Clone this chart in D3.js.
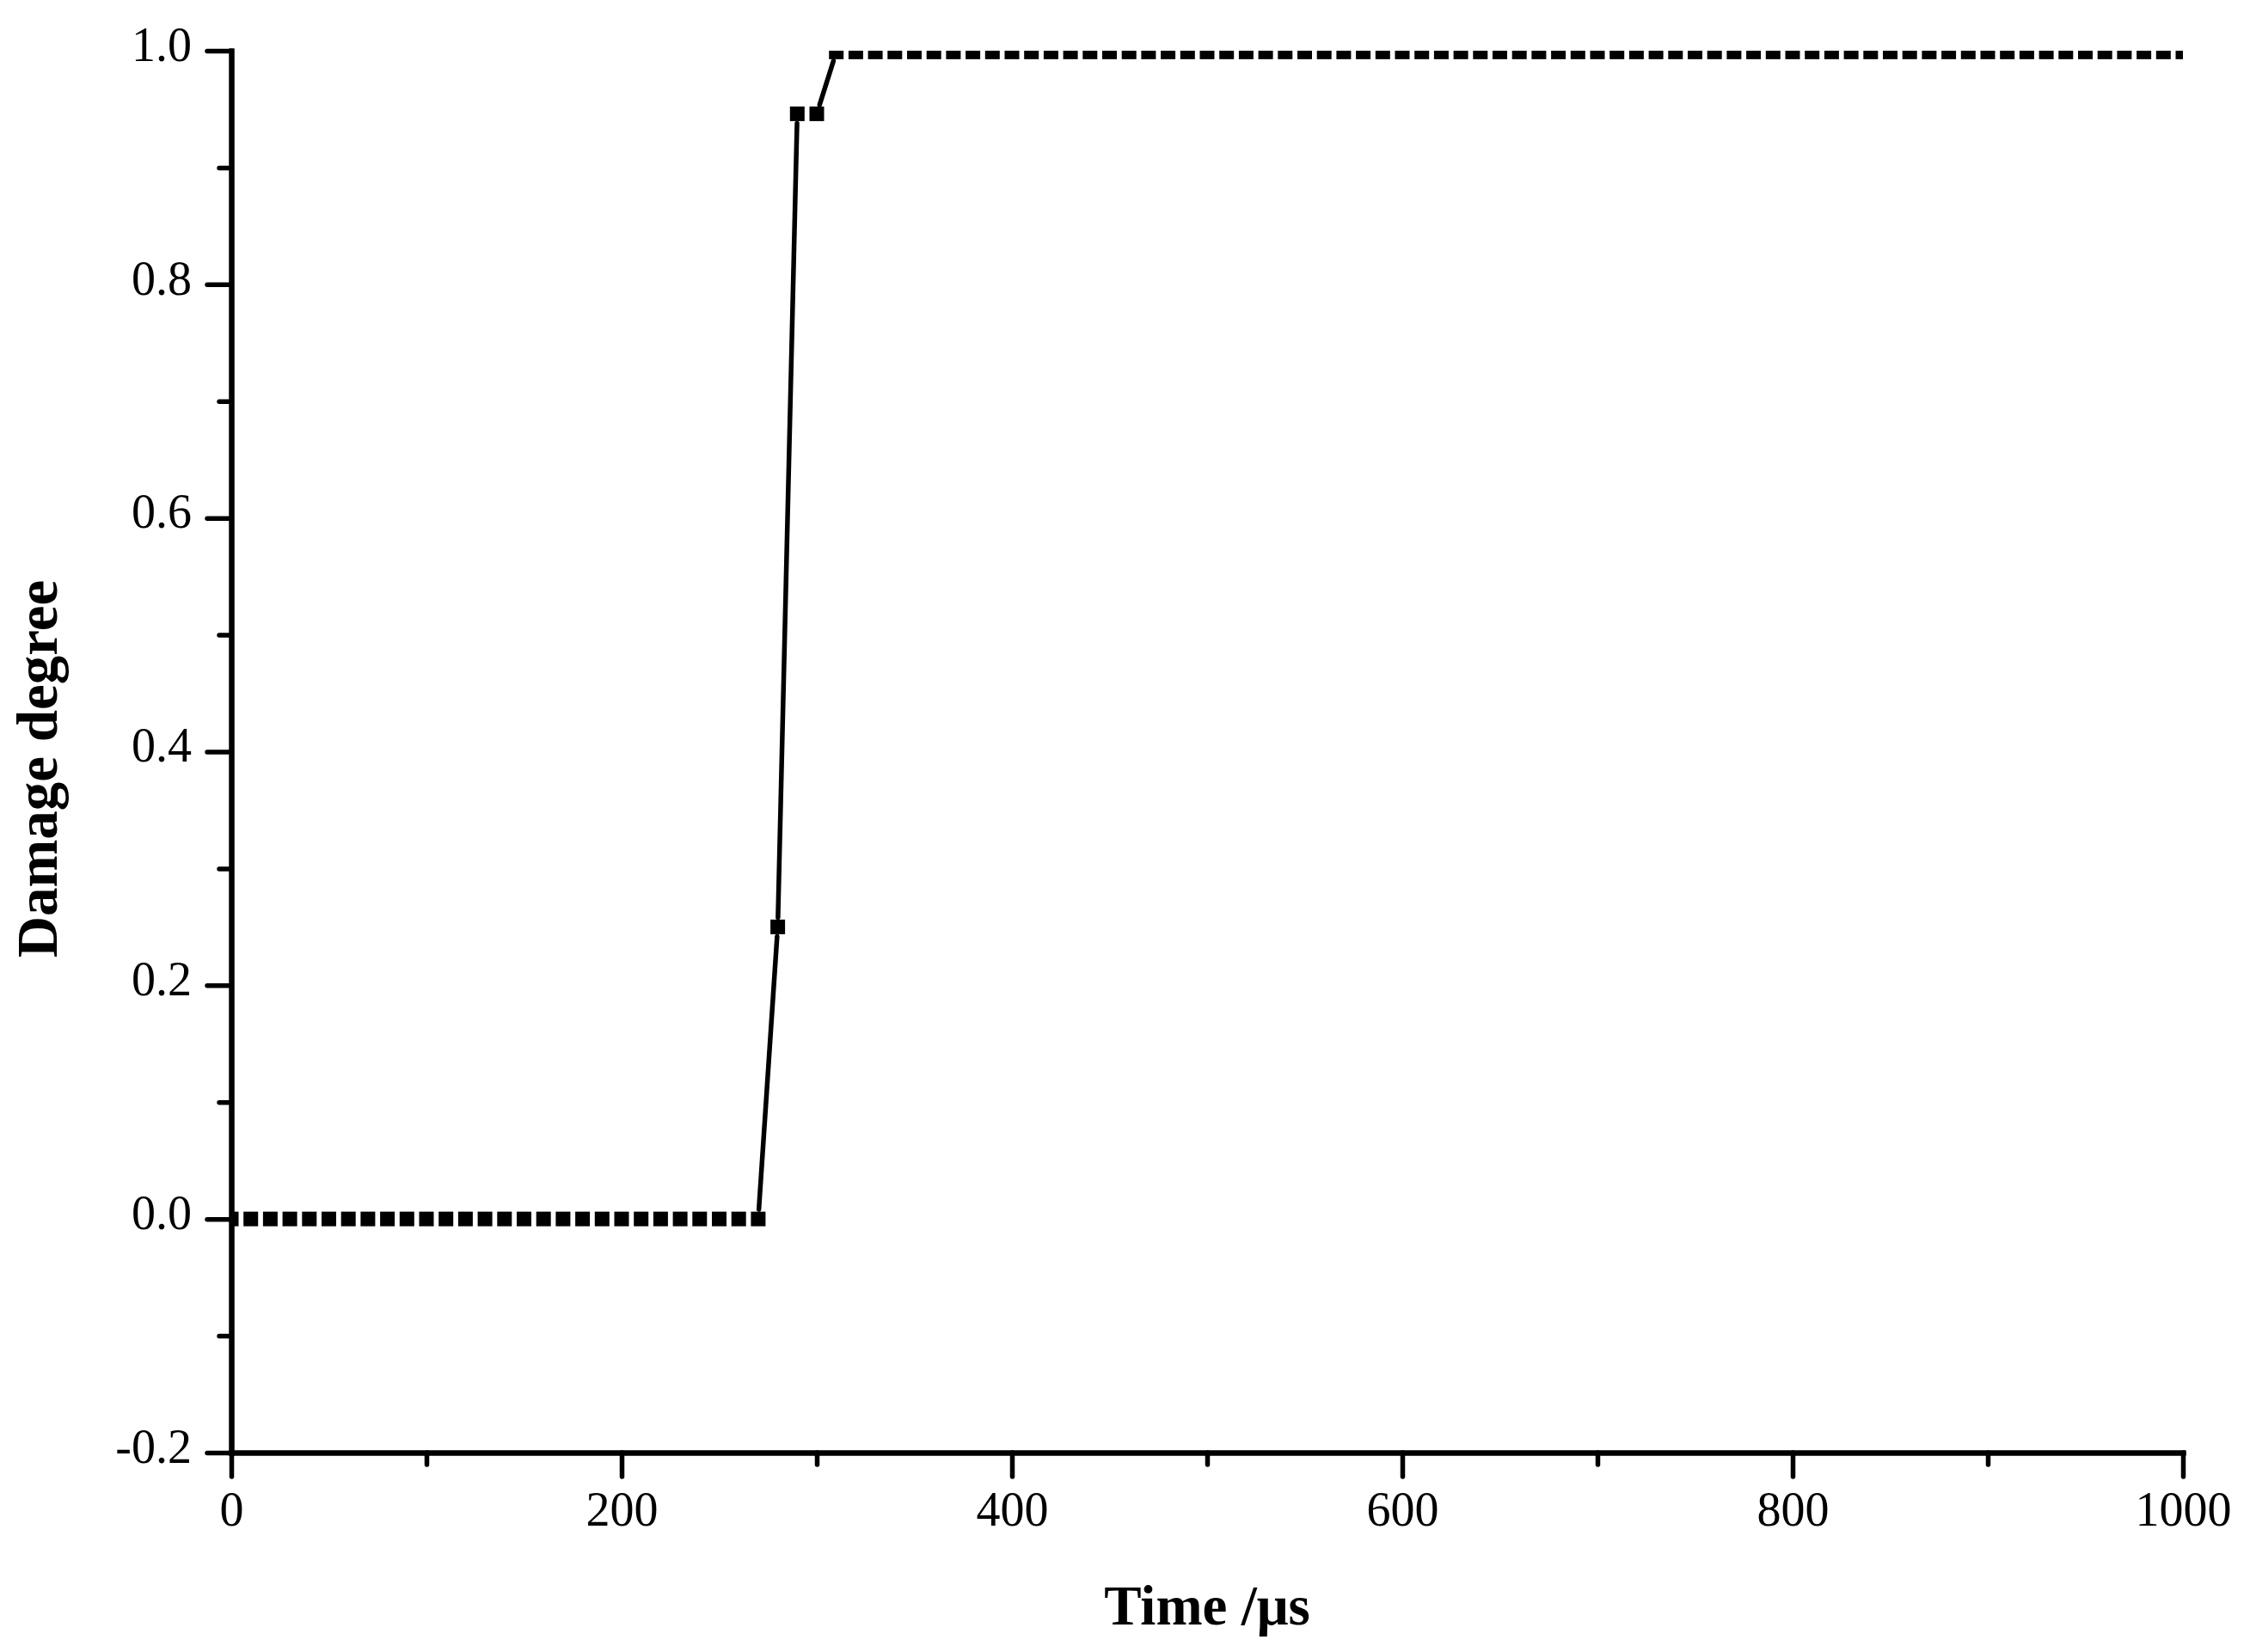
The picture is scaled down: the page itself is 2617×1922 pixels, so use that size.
<!DOCTYPE html>
<html>
<head>
<meta charset="utf-8">
<script src="https://cdn.jsdelivr.net/npm/d3@7"></script>
<style>
  html, body { margin: 0; padding: 0; background: #fff; }
  svg { display: block; }
</style>
</head>
<body>
<script>
// ---- data ----
const times = [0, 10, 20, 30, 40, 50, 60, 70, 80, 90,
  100, 110, 120, 130, 140, 150, 160, 170, 180, 190,
  200, 210, 220, 230, 240, 250, 260, 270, 280, 290,
  300, 310, 320, 330, 340, 350, 360, 370, 380, 390,
  400, 410, 420, 430, 440, 450, 460, 470, 480, 490,
  500, 510, 520, 530, 540, 550, 560, 570, 580, 590,
  600, 610, 620, 630, 640, 650, 660, 670, 680, 690,
  700, 710, 720, 730, 740, 750, 760, 770, 780, 790,
  800, 810, 820, 830, 840, 850, 860, 870, 880, 890,
  900, 910, 920, 930, 940, 950, 960, 970, 980, 990,
  1000];
const damage = [0, 0, 0, 0, 0, 0, 0, 0, 0, 0,
  0, 0, 0, 0, 0, 0, 0, 0, 0, 0,
  0, 0, 0, 0, 0, 0, 0, 0, 0.25, 0.946,
  0.946, 0.999, 0.999, 0.999, 0.999, 0.999, 0.999, 0.999, 0.999, 0.999,
  0.999, 0.999, 0.999, 0.999, 0.999, 0.999, 0.999, 0.999, 0.999, 0.999,
  0.999, 0.999, 0.999, 0.999, 0.999, 0.999, 0.999, 0.999, 0.999, 0.999,
  0.999, 0.999, 0.999, 0.999, 0.999, 0.999, 0.999, 0.999, 0.999, 0.999,
  0.999, 0.999, 0.999, 0.999, 0.999, 0.999, 0.999, 0.999, 0.999, 0.999,
  0.999, 0.999, 0.999, 0.999, 0.999, 0.999, 0.999, 0.999, 0.999, 0.999,
  0.999, 0.999, 0.999, 0.999, 0.999, 0.999, 0.999, 0.999, 0.999, 0.999,
  0.999];
const xMajorTicks = [0, 200, 400, 600, 800, 1000];
const xMinorTicks = [100, 300, 500, 700, 900];
const yMajorTicks = [-0.2, 0.0, 0.2, 0.4, 0.6, 0.8, 1.0];
const yMinorTicks = [-0.1, 0.1, 0.3, 0.5, 0.7, 0.9];
const yTickLabels = ["-0.2", "0.0", "0.2", "0.4", "0.6", "0.8", "1.0"];
const xTitle = "Time /\u03bcs";
const yTitle = "Damage degree";

// ---- layout ----
const W = 2617, H = 1922;
const m = { left: 269, right: 78, top: 59, bottom: 232 };
const iw = W - m.left - m.right, ih = H - m.top - m.bottom;

const svg = d3.select("body").append("svg")
  .attr("width", W).attr("height", H)
  .style("background", "#fff");

const x = d3.scaleLinear().domain([0, 1000]).range([m.left, m.left + iw]);
const y = d3.scaleLinear().domain([-0.2, 1.0]).range([m.top + ih, m.top]);

svg.append("defs").append("clipPath").attr("id", "plotclip")
  .append("rect").attr("x", m.left).attr("y", m.top).attr("width", iw).attr("height", ih);

// ---- data marks ----
const pts = times.map((t, i) => ({ t, v: damage[i] }));
const dataG = svg.append("g").attr("clip-path", "url(#plotclip)");

// connecting line segments with a gap around each symbol
const gap = 11;
const segs = [];
for (let i = 0; i < pts.length - 1; i++) {
  const x1 = x(pts[i].t), y1 = y(pts[i].v), x2 = x(pts[i + 1].t), y2 = y(pts[i + 1].v);
  const dx = x2 - x1, dy = y2 - y1, len = Math.hypot(dx, dy);
  if (len > 2 * gap + 1) {
    const ux = dx / len, uy = dy / len;
    segs.push([x1 + ux * gap, y1 + uy * gap, x2 - ux * gap, y2 - uy * gap]);
  }
}
dataG.selectAll("line.seg").data(segs).enter().append("line")
  .attr("class", "seg")
  .attr("x1", d => d[0]).attr("y1", d => d[1])
  .attr("x2", d => d[2]).attr("y2", d => d[3])
  .attr("stroke", "#000").attr("stroke-width", 5.5).attr("stroke-linecap", "round");

const ms = 17;
dataG.selectAll("rect.pt").data(pts).enter().append("rect")
  .attr("class", "pt")
  .attr("x", d => x(d.t) - ms / 2).attr("y", d => y(d.v) - ms / 2)
  .attr("width", ms).attr("height", ms).attr("fill", "#000");

// ---- axes ----
const fontTick = "'Liberation Serif', 'Times New Roman', serif";
function styleAxis(g) {
  g.select(".domain").attr("stroke", "#000").attr("stroke-width", 6).attr("stroke-linecap", "square");
  g.selectAll(".tick line").attr("stroke", "#000").attr("stroke-width", 5.5).attr("stroke-linecap", "round");
  g.selectAll(".tick text").attr("fill", "#000")
    .style("font-family", fontTick).style("font-size", "56px");
}

// minor ticks
svg.append("g").attr("transform", `translate(0,${m.top + ih})`)
  .call(d3.axisBottom(x).tickValues(xMinorTicks).tickSize(14).tickSizeOuter(0).tickFormat(""))
  .call(styleAxis);
svg.append("g").attr("transform", `translate(${m.left},0)`)
  .call(d3.axisLeft(y).tickValues(yMinorTicks).tickSize(14).tickSizeOuter(0).tickFormat(""))
  .call(styleAxis);

// major ticks
svg.append("g").attr("transform", `translate(0,${m.top + ih})`)
  .call(d3.axisBottom(x).tickValues(xMajorTicks).tickSize(28).tickSizeOuter(0).tickPadding(17).tickFormat(d3.format("d")))
  .call(styleAxis);
const yAx = svg.append("g").attr("transform", `translate(${m.left},0)`)
  .call(d3.axisLeft(y).tickValues(yMajorTicks).tickSize(28).tickSizeOuter(0).tickPadding(18)
    .tickFormat((d, i) => yTickLabels[i]))
  .call(styleAxis);
yAx.selectAll(".tick text").attr("dy", "0.2em");

// ---- titles ----
const fontTitle = "'Liberation Serif', 'Times New Roman', serif";
svg.append("text")
  .attr("x", m.left + iw / 2).attr("y", 1890)
  .attr("text-anchor", "middle")
  .style("font-family", fontTitle).style("font-weight", "bold").style("font-size", "65px")
  .attr("fill", "#000")
  .text(xTitle);

svg.append("text")
  .attr("transform", `translate(66,${m.top + ih / 2 + 20}) rotate(-90)`)
  .attr("text-anchor", "middle")
  .style("font-family", fontTitle).style("font-weight", "bold").style("font-size", "67px")
  .attr("fill", "#000")
  .text(yTitle);
</script>
</body>
</html>
